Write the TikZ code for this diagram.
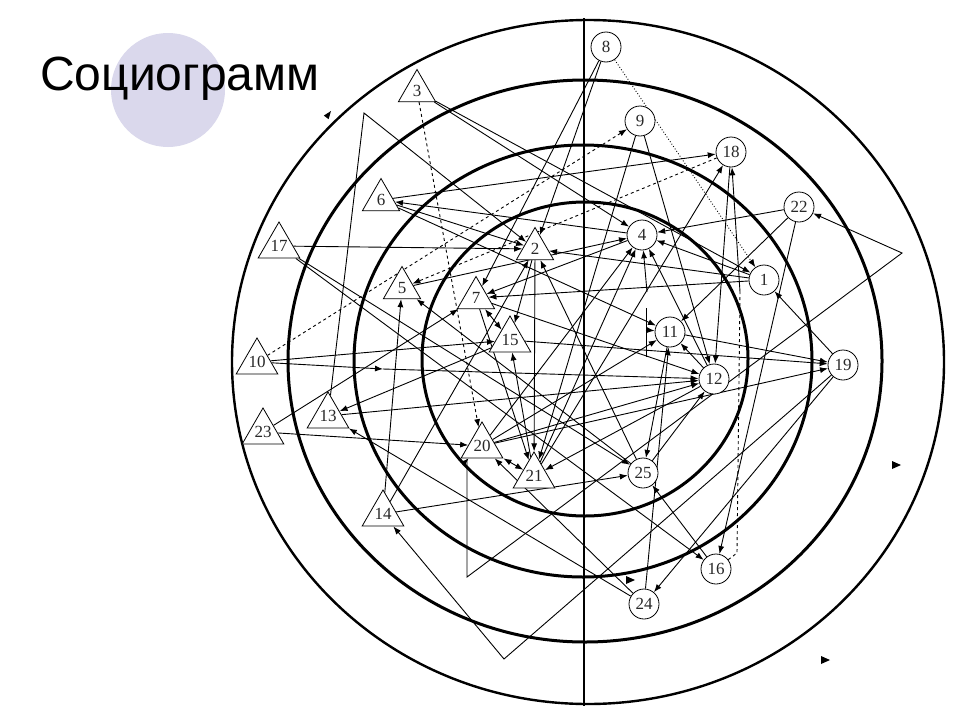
\documentclass[tikz,border=0pt]{standalone}
\usepackage{fontspec}
\setmainfont{Liberation Serif}
\newfontfamily\titlefont{Liberation Sans}
\usetikzlibrary{shapes.geometric,arrows.meta}
\pgfdeclarelayer{bg}
\pgfsetlayers{bg,main}
\definecolor{lav}{RGB}{218,216,236}
\definecolor{numc}{RGB}{40,40,40}
\tikzset{
  cnode/.style={circle, draw, line width=0.8pt, minimum size=30pt, inner sep=0pt, fill=white, text=numc, font=\fontsize{17}{17}\selectfont},
  tnode/.style={regular polygon, regular polygon sides=3, draw, line width=0.8pt, minimum size=43pt, inner sep=0pt, fill=white, text=numc, font=\fontsize{17}{17}\selectfont},
  edge/.style={line width=0.9pt, -{Latex[length=8pt,width=6pt]}},
  edgeb/.style={line width=0.9pt, {Latex[length=8pt,width=6pt]}-{Latex[length=8pt,width=6pt]}},
  plain/.style={line width=0.9pt},
  ring/.style={line width=3pt},
  ringo/.style={line width=2.4pt},
}
\begin{document}
\begin{tikzpicture}[x=1pt,y=-1pt]
\useasboundingbox (0,0) rectangle (960,720);
\node[anchor=base west, inner sep=0pt, font=\titlefont\fontsize{48}{48}\selectfont] (title) at (40,90) {Социограмм};

% nodes
\node[cnode] (n8) at (606,47) {8};
\node[cnode] (n9) at (640,121) {9};
\node[cnode] (n18) at (731,152) {18};
\node[cnode] (n22) at (799,207) {22};
\node[cnode] (n4) at (642,235) {4};
\node[cnode] (n1) at (764,280) {1};
\node[cnode] (n11) at (670,332) {11};
\node[cnode] (n12) at (714,379) {12};
\node[cnode] (n19) at (843,365) {19};
\node[cnode] (n25) at (643,473) {25};
\node[cnode] (n16) at (716,569) {16};
\node[cnode] (n24) at (644,604) {24};

\node[tnode] (n3) at (417,91) {3};
\node[tnode] (n6) at (381,200) {6};
\node[tnode] (n2) at (535,249) {2};
\node[tnode] (n5) at (402,288) {5};
\node[tnode] (n7) at (476,298) {7};
\node[tnode] (n15) at (510,340) {15};
\node[tnode] (n17) at (279,246) {17};
\node[tnode] (n10) at (257,362) {10};
\node[tnode] (n13) at (328,416) {13};
\node[tnode] (n23) at (263,432) {23};
\node[tnode] (n20) at (482,446) {20};
\node[tnode] (n21) at (534,476) {21};
\node[tnode] (n14) at (383,514) {14};

\coordinate (b13) at (364,113);
\coordinate (b22a) at (902,253);
\coordinate (b22b) at (467,577);
\coordinate (b22c) at (467,460);
\coordinate (b14) at (504,659);
\coordinate (c16a) at (737,553);
\coordinate (c16b) at (740,292);
\coordinate (v4) at (647,292);
\coordinate (v11a) at (646,308);
\coordinate (v11b) at (646,357);
\coordinate (v11c) at (646,330);
\coordinate (m10) at (383,369);

\begin{pgfonlayer}{bg}
\fill[white] (0,0) rectangle (960,720);
\fill[lav] (168,90) circle [radius=57pt];
% rings
\draw[ring] (585,359) ellipse [x radius=163pt, y radius=157pt];
\draw[ring] (583,361) ellipse [x radius=229pt, y radius=216pt];
\draw[ring] (585,361) ellipse [x radius=297pt, y radius=281pt];
\draw[ringo] (588,362) ellipse [x radius=356pt, y radius=342pt];
\draw[line width=2pt] (584,18) -- (584,706);
% ring markers
\fill (328,115) ++(3,-4) -- ++(-2.4,8.2) -- ++(-4.8,-3.6) -- cycle;
\fill (896,465) ++(5,0) -- ++(-9,-4) -- ++(0,8) -- cycle;
\fill (825,660) ++(5,0) -- ++(-9,-4) -- ++(0,8) -- cycle;
\fill (630,580) ++(5,0) -- ++(-9,-4) -- ++(0,8) -- cycle;

% edges
\draw[edge] (n8) -- (n7);
\draw[edge] (n8) -- (n2);
\draw[edge,dotted] (n8) -- (n1);
\draw[edge,dashed] (n10) -- (n9);
\draw[edge] (n9) -- (n12);
\draw[edge] (n9) -- (n21);
\draw[edge] (n3) -- (n4);
\draw[edge] (n3) -- (n1);
\draw[edge,dashed] (n3) -- (n20);
\draw[edge] (n13) -- (b13) -- (n2);
\draw[edge] (n6) -- (n18);
\draw[edge] (n4) -- (n6);
\draw[edge] (n6) -- (n2);
\draw[edge] (n6) -- (n11);
\draw[edge] (n17) -- (n2);
\draw[edge] (n17) -- (n25);
\draw[edge] (n17) -- (n16);
\draw[edge] (n10) -- (n15);
\draw[edge] (n10) -- (m10);
\draw[edge] (m10) -- (n12);
\draw[edge] (n23) -- (n7);
\draw[edge] (n23) -- (n20);
\draw[edge] (n22) -- (n4);
\draw[edge] (n22) -- (n11);
\draw[edge] (n22) -- (n16);
\draw[edgeb] (n22) -- (b22a) -- (b22b) -- (b22c) -- (n20);
\draw[edge] (n19) -- (b14) -- (n14);
\draw[edge] (n18) -- (n12);
\draw[plain,dashed] (n16) -- (c16a) -- (c16b);
\draw[edge] (c16b) -- (n18);
\draw[edge] (n21) -- (n18);
\draw[edge,dashed] (n18) -- (n5);
\draw[edge] (n1) -- (n4);
\draw[edge] (n1) -- (n2);
\draw[edge] (n1) -- (n7);
\draw[edge] (n19) -- (n1);
\draw[edge] (n11) -- (n19);
\draw[edge] (n11) -- (n25);
\draw[edge] (n24) -- (n11);
\draw[edge] (n12) -- (n11);
\draw[edge] (n12) -- (n4);
\draw[edge] (n7) -- (n12);
\draw[edge] (n13) -- (n12);
\draw[edge] (n20) -- (n12);
\draw[edge] (n12) -- (n21);
\draw[edge] (n25) -- (n12);
\draw[edge] (n14) -- (n25);
\draw[edge] (n16) -- (n25);
\draw[edge] (n25) -- (n2);
\draw[edge] (n2) -- (n21);
\draw[edge] (n2) -- (n15);
\draw[edge] (n4) -- (n7);
\draw[edge] (n14) -- (n2);
\draw[edge] (n14) -- (n5);
\draw[edge] (n25) -- (n5);
\draw[edgeb] (n7) -- (n15);
\draw[edge] (n7) -- (n21);
\draw[edge] (n21) -- (n15);
\draw[edge] (n15) -- (n13);
\draw[edge] (n24) -- (n13);
\draw[edgeb] (n20) -- (n21);
\draw[edge] (n20) -- (n19);
\draw[edge] (n15) -- (n19);
\draw[edge] (n21) -- (n4);
\draw[edge] (n20) -- (n4);
\draw[edge] (n20) -- (n11);
\draw[edge] (n19) -- (n24);
\draw[edge] (n24) -- (n20);
\draw[edge] (n5) -- (n4);
\draw[edge] (v4) -- (n4);
\draw[plain] (v11a) -- (v11b);
\draw[edge] (v11c) -- (n11);
\end{pgfonlayer}
\end{tikzpicture}
\end{document}
